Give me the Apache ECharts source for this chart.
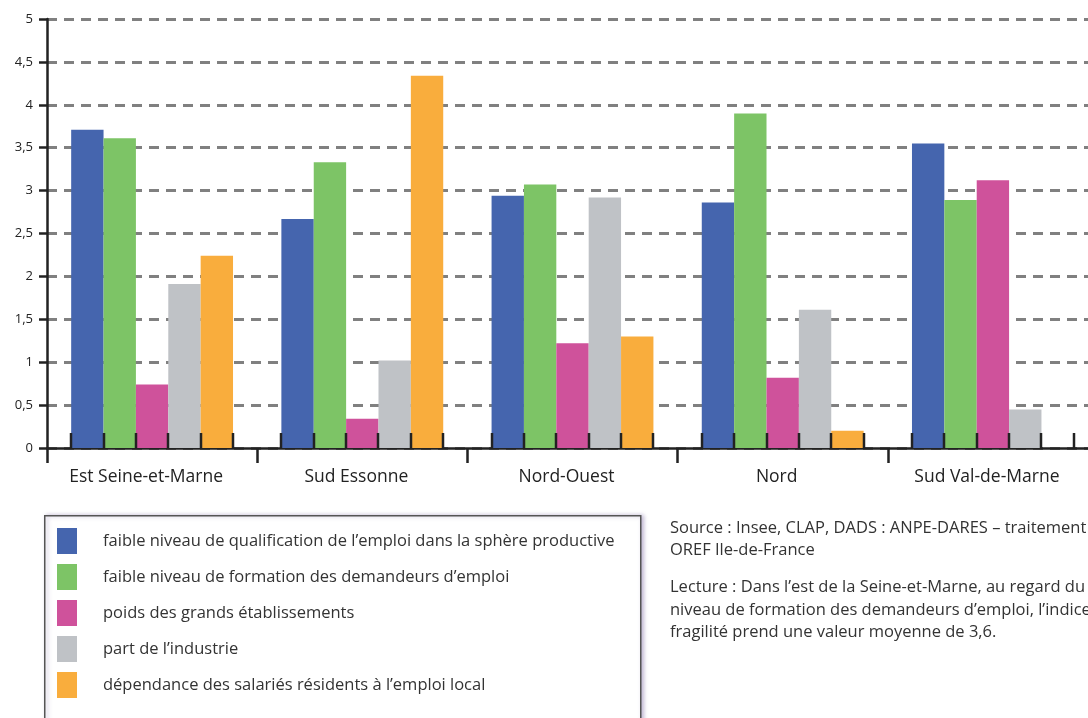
<!DOCTYPE html>
<html>
<head>
<meta charset="utf-8">
<script src="https://cdn.jsdelivr.net/npm/echarts@6/dist/echarts.min.js"></script>
<style>
html,body{margin:0;padding:0;background:#fff;}
#main{width:1088px;height:718px;}
</style>
</head>
<body>
<div id="main"></div>
<script>
var categories = ['Est Seine-et-Marne', 'Sud Essonne', 'Nord-Ouest', 'Nord', 'Sud Val-de-Marne'];
var seriesNames = [
  'faible niveau de qualification de l\u2019emploi dans la sph\u00e8re productive',
  'faible niveau de formation des demandeurs d\u2019emploi',
  'poids des grands \u00e9tablissements',
  'part de l\u2019industrie',
  'd\u00e9pendance des salari\u00e9s r\u00e9sidents \u00e0 l\u2019emploi local'
];
var qualification = [3.71, 2.67, 2.94, 2.86, 3.55];
var formation = [3.61, 3.33, 3.07, 3.90, 2.89];
var grandsEtab = [0.74, 0.34, 1.22, 0.82, 3.12];
var industrie = [1.91, 1.02, 2.92, 1.61, 0.45];
var dependance = [2.24, 4.34, 1.30, 0.20, null];
var yTicks = [0, 0.5, 1, 1.5, 2, 2.5, 3, 3.5, 4, 4.5, 5];
var sourceLines = [
  'Source : Insee, CLAP, DADS : ANPE-DARES \u2013 traitement',
  'OREF Ile-de-France'
];
var lectureLines = [
  'Lecture : Dans l\u2019est de la Seine-et-Marne, au regard du faible',
  'niveau de formation des demandeurs d\u2019emploi, l\u2019indice de',
  'fragilit\u00e9 prend une valeur moyenne de 3,6.'
];

var colors = ['#4565ae', '#7dc466', '#cf529b', '#bfc2c6', '#f9ad3d'];
var FONT = '"Open Sans"';
var catGap = 0.23;
var allValues = [qualification, formation, grandsEtab, industrie, dependance];

var chart = echarts.init(document.getElementById('main'));

var barSeries = allValues.map(function (vals, i) {
  return {
    name: seriesNames[i],
    type: 'bar',
    data: vals,
    barGap: 0,
    barCategoryGap: (catGap * 100) + '%',
    itemStyle: { color: colors[i] },
    silent: true
  };
});

var tickSeries = {
  type: 'custom',
  name: 'ticks',
  z: 10,
  silent: true,
  data: categories.map(function (c, i) { return [i]; }),
  encode: { x: 0 },
  renderItem: function (params, api) {
    var base = api.coord([api.value(0), 0]);
    var band = api.size([1, 0])[0];
    var groupW = band * (1 - catGap);
    var barW = groupW / 5;
    var x0 = base[0] - groupW / 2;
    var children = [];
    for (var k = 0; k <= 5; k++) {
      var x = Math.round(x0 + k * barW);
      children.push({
        type: 'line',
        shape: { x1: x, y1: base[1], x2: x, y2: base[1] - 15 },
        style: { stroke: '#222', lineWidth: 2.5 }
      });
    }
    return { type: 'group', children: children };
  }
};

var graphics = [{
  type: 'rect',
  left: 44, top: 515,
  shape: { width: 596, height: 230 },
  style: { fill: '#fff', stroke: '#555', lineWidth: 1.5, shadowBlur: 4, shadowOffsetX: 2, shadowColor: 'rgba(120,100,160,0.45)' },
  z: -1
}];
sourceLines.forEach(function (t, i) {
  graphics.push({ type: 'text', left: 670, top: 520 + i * 22, style: { text: t, fill: '#333', font: '16.5px ' + FONT } });
});
lectureLines.forEach(function (t, i) {
  graphics.push({ type: 'text', left: 670, top: 579 + i * 22.5, style: { text: t, fill: '#333', font: '16.5px ' + FONT } });
});

chart.setOption({
  animation: false,
  textStyle: { fontFamily: FONT },
  grid: { left: 47, top: 19, height: 429, width: 1051, containLabel: false, outerBoundsMode: 'none' },
  legend: {
    data: seriesNames,
    orient: 'vertical',
    left: 57, top: 528,
    padding: 0,
    itemWidth: 20, itemHeight: 26, itemGap: 10,
    icon: 'rect',
    selectedMode: false,
    textStyle: { fontSize: 16.5, color: '#333', fontFamily: FONT, padding: [0, 0, 0, 21] }
  },
  xAxis: {
    type: 'category',
    data: categories,
    axisLine: { lineStyle: { color: '#222', width: 2.5 } },
    axisTick: { show: true, length: 15, lineStyle: { color: '#222', width: 2.5 } },
    axisLabel: { color: '#222', fontSize: 17.5, margin: 20, fontFamily: FONT, padding: [0, 12, 0, 0] }
  },
  yAxis: {
    type: 'value',
    min: yTicks[0], max: yTicks[yTicks.length - 1], interval: yTicks[1] - yTicks[0],
    axisLine: { show: true, lineStyle: { color: '#222', width: 2.5 } },
    axisTick: { show: true, length: 8, lineStyle: { color: '#222', width: 2.5 } },
    axisLabel: { color: '#222', fontSize: 13, margin: 14, fontFamily: FONT,
      formatter: function (v) { return String(v).replace('.', ','); } },
    splitLine: { show: true, lineStyle: { color: '#808080', width: 3, type: [10, 7] } }
  },
  graphic: graphics,
  series: barSeries.concat([tickSeries])
});
</script>
</body>
</html>
